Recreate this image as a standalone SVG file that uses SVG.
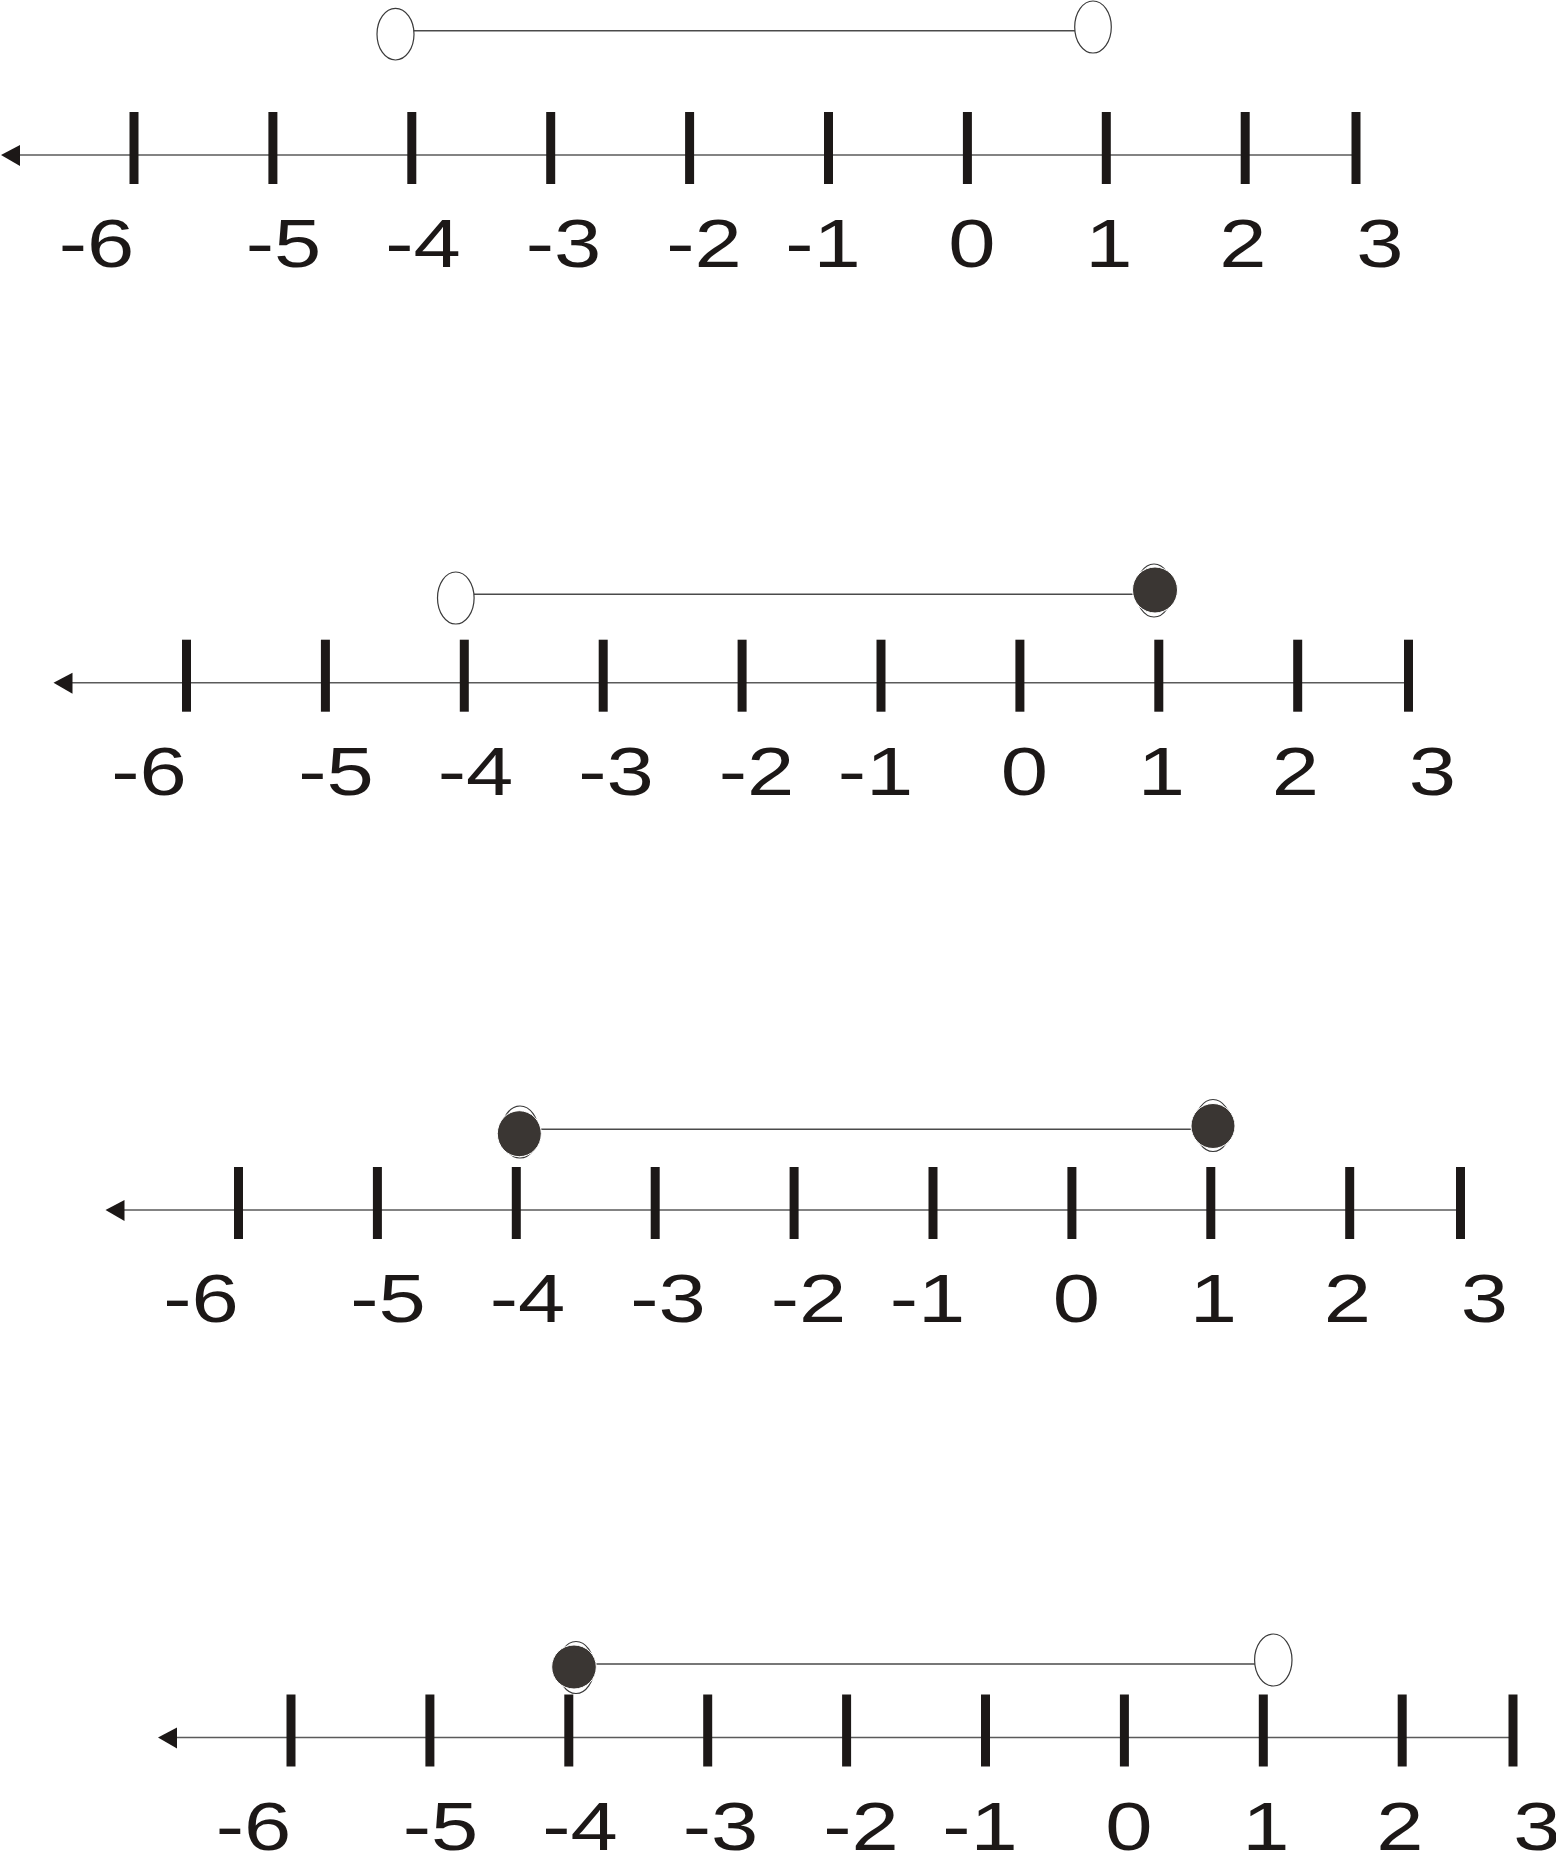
<svg xmlns="http://www.w3.org/2000/svg" width="1556" height="1851" viewBox="0 0 1556 1851">
<style>
.axis{stroke:#5a5a5a;stroke-width:1.6;fill:none}
.tick{stroke:#1c1817;stroke-width:9;fill:none}
.arrow{fill:#1c1817}
.lbl{font-family:"Liberation Sans",Arial,sans-serif;font-size:68px;fill:#1c1817;text-anchor:middle}
.seg{stroke:#4a4a4a;stroke-width:1.5;fill:none}
.open{fill:#fff;stroke:#3a3a3a;stroke-width:1.2}
.ring{fill:none;stroke:#3a3a3a;stroke-width:1.2}
.dot{fill:#3a3633;stroke:#fff;stroke-width:1}
</style>
<rect width="1556" height="1851" fill="#fff"/>
<!-- Number line 1 -->
<g id="line1">
 <g id="axis1">
  <line class="axis" x1="16" y1="155" x2="1356" y2="155"/>
  <polygon class="arrow" points="1,155 20,145 20,166"/>
  <g id="ticks1">
   <line class="tick" x1="134" y1="112" x2="134" y2="184"/>
   <line class="tick" x1="272.9" y1="112" x2="272.9" y2="184"/>
   <line class="tick" x1="411.8" y1="112" x2="411.8" y2="184"/>
   <line class="tick" x1="550.7" y1="112" x2="550.7" y2="184"/>
   <line class="tick" x1="689.6" y1="112" x2="689.6" y2="184"/>
   <line class="tick" x1="828.5" y1="112" x2="828.5" y2="184"/>
   <line class="tick" x1="967.4" y1="112" x2="967.4" y2="184"/>
   <line class="tick" x1="1106.3" y1="112" x2="1106.3" y2="184"/>
   <line class="tick" x1="1245.2" y1="112" x2="1245.2" y2="184"/>
   <line class="tick" x1="1356" y1="112" x2="1356" y2="184"/>
  </g>
  <g id="labels1">
   <text class="lbl" transform="translate(96.6,267) scale(1.25,1)">-6</text>
   <text class="lbl" transform="translate(283.5,267) scale(1.25,1)">-5</text>
   <text class="lbl" transform="translate(423,267) scale(1.25,1)">-4</text>
   <text class="lbl" transform="translate(563.5,267) scale(1.25,1)">-3</text>
   <text class="lbl" transform="translate(704,267) scale(1.25,1)">-2</text>
   <text class="lbl" transform="translate(823,267) scale(1.25,1)">-1</text>
   <text class="lbl" transform="translate(972,267) scale(1.25,1)">0</text>
   <text class="lbl" transform="translate(1109,267) scale(1.25,1)">1</text>
   <text class="lbl" transform="translate(1243,267) scale(1.25,1)">2</text>
   <text class="lbl" transform="translate(1380,267) scale(1.25,1)">3</text>
  </g>
 </g>
 <g id="interval1">
  <line class="seg" x1="413" y1="30.7" x2="1075" y2="30.7"/>
  <ellipse class="open" cx="395.5" cy="34.2" rx="18.5" ry="25.8"/>
  <ellipse class="open" cx="1093" cy="27" rx="18.3" ry="26"/>
 </g>
</g>
<!-- Number line 2 -->
<g id="line2">
 <g id="axis2" transform="translate(52.5,527.7)">
  <line class="axis" x1="16" y1="155" x2="1356" y2="155"/>
  <polygon class="arrow" points="1,155 20,145 20,166"/>
  <g id="ticks2">
   <line class="tick" x1="134" y1="112" x2="134" y2="184"/>
   <line class="tick" x1="272.9" y1="112" x2="272.9" y2="184"/>
   <line class="tick" x1="411.8" y1="112" x2="411.8" y2="184"/>
   <line class="tick" x1="550.7" y1="112" x2="550.7" y2="184"/>
   <line class="tick" x1="689.6" y1="112" x2="689.6" y2="184"/>
   <line class="tick" x1="828.5" y1="112" x2="828.5" y2="184"/>
   <line class="tick" x1="967.4" y1="112" x2="967.4" y2="184"/>
   <line class="tick" x1="1106.3" y1="112" x2="1106.3" y2="184"/>
   <line class="tick" x1="1245.2" y1="112" x2="1245.2" y2="184"/>
   <line class="tick" x1="1356" y1="112" x2="1356" y2="184"/>
  </g>
  <g id="labels2">
   <text class="lbl" transform="translate(96.6,267) scale(1.25,1)">-6</text>
   <text class="lbl" transform="translate(283.5,267) scale(1.25,1)">-5</text>
   <text class="lbl" transform="translate(423,267) scale(1.25,1)">-4</text>
   <text class="lbl" transform="translate(563.5,267) scale(1.25,1)">-3</text>
   <text class="lbl" transform="translate(704,267) scale(1.25,1)">-2</text>
   <text class="lbl" transform="translate(823,267) scale(1.25,1)">-1</text>
   <text class="lbl" transform="translate(972,267) scale(1.25,1)">0</text>
   <text class="lbl" transform="translate(1109,267) scale(1.25,1)">1</text>
   <text class="lbl" transform="translate(1243,267) scale(1.25,1)">2</text>
   <text class="lbl" transform="translate(1380,267) scale(1.25,1)">3</text>
  </g>
 </g>
 <g id="interval2">
  <line class="seg" x1="474" y1="594.3" x2="1134" y2="594.3"/>
  <ellipse class="open" cx="455.8" cy="598" rx="18.3" ry="26"/>
  <ellipse class="ring" cx="1154" cy="590.5" rx="18" ry="26.5"/>
  <ellipse class="dot" cx="1155" cy="590" rx="22.5" ry="23"/>
 </g>
</g>
<!-- Number line 3 -->
<g id="line3">
 <g id="axis3" transform="translate(104.5,1055)">
  <line class="axis" x1="16" y1="155" x2="1356" y2="155"/>
  <polygon class="arrow" points="1,155 20,145 20,166"/>
  <g id="ticks3">
   <line class="tick" x1="134" y1="112" x2="134" y2="184"/>
   <line class="tick" x1="272.9" y1="112" x2="272.9" y2="184"/>
   <line class="tick" x1="411.8" y1="112" x2="411.8" y2="184"/>
   <line class="tick" x1="550.7" y1="112" x2="550.7" y2="184"/>
   <line class="tick" x1="689.6" y1="112" x2="689.6" y2="184"/>
   <line class="tick" x1="828.5" y1="112" x2="828.5" y2="184"/>
   <line class="tick" x1="967.4" y1="112" x2="967.4" y2="184"/>
   <line class="tick" x1="1106.3" y1="112" x2="1106.3" y2="184"/>
   <line class="tick" x1="1245.2" y1="112" x2="1245.2" y2="184"/>
   <line class="tick" x1="1356" y1="112" x2="1356" y2="184"/>
  </g>
  <g id="labels3">
   <text class="lbl" transform="translate(96.6,267) scale(1.25,1)">-6</text>
   <text class="lbl" transform="translate(283.5,267) scale(1.25,1)">-5</text>
   <text class="lbl" transform="translate(423,267) scale(1.25,1)">-4</text>
   <text class="lbl" transform="translate(563.5,267) scale(1.25,1)">-3</text>
   <text class="lbl" transform="translate(704,267) scale(1.25,1)">-2</text>
   <text class="lbl" transform="translate(823,267) scale(1.25,1)">-1</text>
   <text class="lbl" transform="translate(972,267) scale(1.25,1)">0</text>
   <text class="lbl" transform="translate(1109,267) scale(1.25,1)">1</text>
   <text class="lbl" transform="translate(1243,267) scale(1.25,1)">2</text>
   <text class="lbl" transform="translate(1380,267) scale(1.25,1)">3</text>
  </g>
 </g>
 <g id="interval3">
  <line class="seg" x1="541" y1="1129.3" x2="1192" y2="1129.3"/>
  <ellipse class="ring" cx="520" cy="1132" rx="18.5" ry="26"/>
  <ellipse class="dot" cx="519.3" cy="1133.7" rx="22" ry="23"/>
  <ellipse class="ring" cx="1213" cy="1125.5" rx="18" ry="26"/>
  <ellipse class="dot" cx="1213" cy="1126" rx="22" ry="22.5"/>
 </g>
</g>
<!-- Number line 4 -->
<g id="line4">
 <g id="axis4" transform="translate(157,1582.5)">
  <line class="axis" x1="16" y1="155" x2="1356" y2="155"/>
  <polygon class="arrow" points="1,155 20,145 20,166"/>
  <g id="ticks4">
   <line class="tick" x1="134" y1="112" x2="134" y2="184"/>
   <line class="tick" x1="272.9" y1="112" x2="272.9" y2="184"/>
   <line class="tick" x1="411.8" y1="112" x2="411.8" y2="184"/>
   <line class="tick" x1="550.7" y1="112" x2="550.7" y2="184"/>
   <line class="tick" x1="689.6" y1="112" x2="689.6" y2="184"/>
   <line class="tick" x1="828.5" y1="112" x2="828.5" y2="184"/>
   <line class="tick" x1="967.4" y1="112" x2="967.4" y2="184"/>
   <line class="tick" x1="1106.3" y1="112" x2="1106.3" y2="184"/>
   <line class="tick" x1="1245.2" y1="112" x2="1245.2" y2="184"/>
   <line class="tick" x1="1356" y1="112" x2="1356" y2="184"/>
  </g>
  <g id="labels4">
   <text class="lbl" transform="translate(96.6,267) scale(1.25,1)">-6</text>
   <text class="lbl" transform="translate(283.5,267) scale(1.25,1)">-5</text>
   <text class="lbl" transform="translate(423,267) scale(1.25,1)">-4</text>
   <text class="lbl" transform="translate(563.5,267) scale(1.25,1)">-3</text>
   <text class="lbl" transform="translate(704,267) scale(1.25,1)">-2</text>
   <text class="lbl" transform="translate(823,267) scale(1.25,1)">-1</text>
   <text class="lbl" transform="translate(972,267) scale(1.25,1)">0</text>
   <text class="lbl" transform="translate(1109,267) scale(1.25,1)">1</text>
   <text class="lbl" transform="translate(1243,267) scale(1.25,1)">2</text>
   <text class="lbl" transform="translate(1380,267) scale(1.25,1)">3</text>
  </g>
 </g>
 <g id="interval4">
  <line class="seg" x1="596" y1="1664" x2="1255" y2="1664"/>
  <ellipse class="ring" cx="576" cy="1667.5" rx="18" ry="26"/>
  <ellipse class="dot" cx="574" cy="1667" rx="22.3" ry="22"/>
  <ellipse class="open" cx="1273.3" cy="1660" rx="18.7" ry="26"/>
 </g>
</g>
</svg>
